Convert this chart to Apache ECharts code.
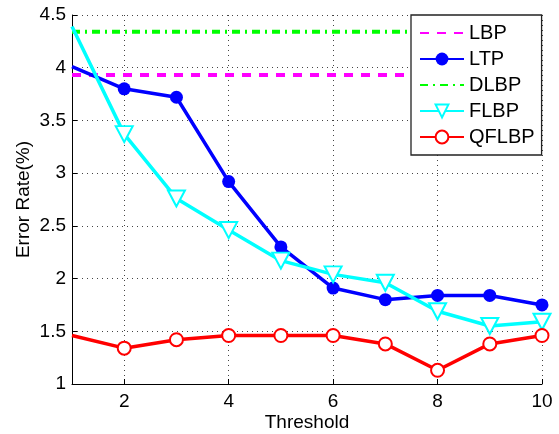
<!DOCTYPE html>
<html>
<head>
<meta charset="utf-8">
<script src="https://cdn.jsdelivr.net/npm/echarts@6/dist/echarts.min.js"></script>
<style>
html,body{margin:0;padding:0;background:#fff;}
#chart{width:559px;height:434px;}
</style>
</head>
<body>
<div id="chart"></div>
<script>
var thresholds = [1, 2, 3, 4, 5, 6, 7, 8, 9, 10];
var xTicks = [2, 4, 6, 8, 10];
var lbp = [3.93, 3.93, 3.93, 3.93, 3.93, 3.93, 3.93, 3.93, 3.93, 3.93];
var ltp = [4.01, 3.80, 3.72, 2.92, 2.30, 1.91, 1.80, 1.84, 1.84, 1.75];
var dlbp = [4.34, 4.34, 4.34, 4.34, 4.34, 4.34, 4.34, 4.34, 4.34, 4.34];
var flbp = [4.39, 3.37, 2.76, 2.46, 2.17, 2.04, 1.96, 1.69, 1.55, 1.59];
var qflbp = [1.46, 1.34, 1.42, 1.46, 1.46, 1.46, 1.38, 1.13, 1.38, 1.46];

// first point sits on the axis edge, where the reference shows no marker
function pairs(vals) {
  return thresholds.map(function (x, i) {
    return i === 0 ? { value: [x, vals[i]], symbol: 'none' } : [x, vals[i]];
  });
}

var font = 'Liberation Sans, Arial, Helvetica, sans-serif';
var chart = echarts.init(document.getElementById('chart'));
chart.setOption({
  animation: false,
  backgroundColor: '#fff',
  grid: { left: 72, right: 17, top: 15, bottom: 50, containLabel: false, outerBoundsMode: 'none' },
  xAxis: {
    type: 'value', min: 1, max: 10,
    name: 'Threshold', nameLocation: 'middle', nameGap: 29, nameMoveOverlap: false,
    nameTextStyle: { fontSize: 19, color: '#000', fontFamily: font },
    axisLine: { show: true, onZero: false, lineStyle: { color: '#000', width: 1 } },
    axisTick: { show: true, inside: true, length: 5, customValues: xTicks, lineStyle: { color: '#000' } },
    axisLabel: { customValues: xTicks, fontSize: 19, color: '#000', fontFamily: font, margin: 8 },
    splitLine: { show: true, lineStyle: { color: '#444', type: [1, 4], width: 1 } }
  },
  yAxis: {
    type: 'value', min: 1, max: 4.5, interval: 0.5,
    name: 'Error Rate(%)', nameLocation: 'middle', nameGap: 39, nameMoveOverlap: false,
    nameTextStyle: { fontSize: 19, color: '#000', fontFamily: font },
    axisLine: { show: true, onZero: false, lineStyle: { color: '#000', width: 1 } },
    axisTick: { show: true, inside: true, length: 5, lineStyle: { color: '#000' } },
    axisLabel: { fontSize: 19, color: '#000', fontFamily: font, margin: 6 },
    splitLine: { show: true, lineStyle: { color: '#444', type: [1, 4], width: 1 } }
  },
  legend: {
    orient: 'vertical', left: 411, top: 15,
    padding: [8, 7, 8, 8],
    itemWidth: 44, itemHeight: 16, itemGap: 6,
    borderColor: '#222', borderWidth: 1.3, backgroundColor: '#fff',
    textStyle: { fontSize: 20, color: '#000', fontFamily: font },
    data: [
      { name: 'LBP', itemStyle: { opacity: 0 } },
      'LTP',
      { name: 'DLBP', itemStyle: { opacity: 0 } },
      'FLBP',
      'QFLBP'
    ]
  },
  series: [
    { name: 'LBP', type: 'line', data: pairs(lbp), symbol: 'none', z: 2,
      itemStyle: { color: '#ff00ff' },
      lineStyle: { color: '#ff00ff', width: 4, type: [9, 8] } },
    { name: 'LTP', type: 'line', data: pairs(ltp), symbol: 'circle', symbolSize: 13, z: 3,
      itemStyle: { color: '#0000ff' },
      lineStyle: { color: '#0000ff', width: 3.5 } },
    { name: 'DLBP', type: 'line', data: pairs(dlbp), symbol: 'none', z: 2,
      itemStyle: { color: '#00ff00' },
      lineStyle: { color: '#00ff00', width: 4, type: [8, 5, 2, 5] } },
    { name: 'FLBP', type: 'line', data: pairs(flbp), symbol: 'emptyTriangle', symbolSize: [17, 16], symbolRotate: 180, z: 4,
      itemStyle: { color: '#00ffff', borderWidth: 3, borderColor: '#00ffff' },
      lineStyle: { color: '#00ffff', width: 3.5 } },
    { name: 'QFLBP', type: 'line', data: pairs(qflbp), symbol: 'emptyCircle', symbolSize: 13, z: 5,
      itemStyle: { color: '#ff0000', borderWidth: 3, borderColor: '#ff0000' },
      lineStyle: { color: '#ff0000', width: 3.5 } }
  ]
});
</script>
</body>
</html>
